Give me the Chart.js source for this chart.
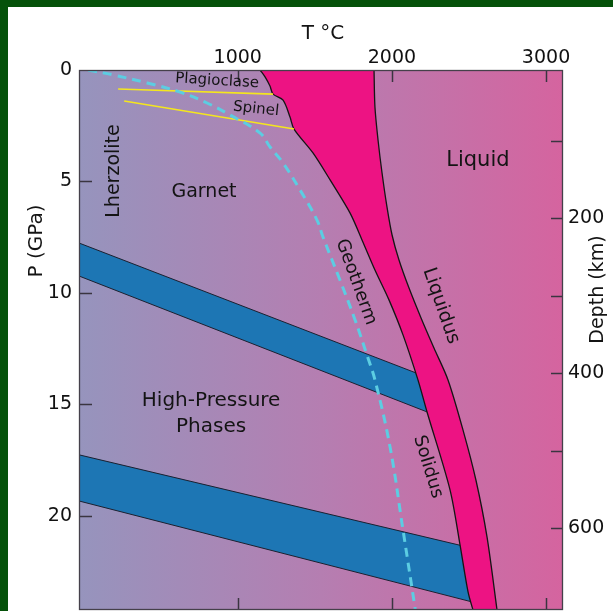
<!DOCTYPE html>
<html><head><meta charset="utf-8">
<script src="https://cdn.jsdelivr.net/npm/chart.js@4.4.1/dist/chart.umd.min.js"></script>
<style>html,body{margin:0;padding:0;background:#fff;overflow:hidden}canvas{display:block}</style>
</head><body>
<canvas id="c" width="613" height="611"></canvas>
<script>
// ---- tick values ----
const tempTicks = [1000, 2000, 3000];
const pressureTicks = [0, 5, 10, 15, 20];
const depthMinorTicks = [100, 200, 300, 400, 500, 600];
const depthLabelTicks = [200, 400, 600];

// ---- phase boundaries (T in °C, P in GPa) ----
const solidusT = [1145, 1177, 1209, 1229, 1294, 1339, 1365, 1488, 1599, 1728, 1806, 1890, 1981, 2072, 2169, 2228, 2377, 2442, 2494, 2526, 2560];
const solidusP = [0, 0.31, 0.72, 1.08, 1.35, 2.11, 2.65, 3.72, 4.93, 6.41, 7.62, 8.97, 10.31, 11.88, 13.90, 15.34, 18.83, 21.30, 23.41, 24.22, 25.0];

const liquidusT = [1884, 1890, 1910, 1936, 1968, 2001, 2046, 2111, 2189, 2273, 2364, 2461, 2545, 2617, 2682, 2697];
const liquidusP = [0, 1.66, 3.14, 4.62, 6.14, 7.40, 8.52, 9.78, 11.12, 12.47, 13.90, 16.14, 18.39, 20.94, 24.22, 25.0];

const geothermT = [29, 191, 412, 626, 801, 950, 1145, 1209, 1294, 1404, 1514, 1553, 1663, 1761, 1838, 1890, 1988, 2072, 2149, 2160];
const geothermP = [0, 0.22, 0.58, 0.99, 1.48, 2.02, 2.83, 3.45, 4.17, 5.38, 6.73, 7.49, 9.42, 11.21, 12.78, 13.90, 16.91, 20.63, 24.08, 24.6];

const plagioclaseT = [224, 1229];
const plagioclaseP = [0.85, 1.08];
const spinelT = [263, 1365];
const spinelP = [1.39, 2.65];

// upper transition zone band (top / bottom boundaries)
const band1TopT = [-30, 2300];
const band1TopP = [7.76, 13.97];
const band1BotT = [-30, 2300];
const band1BotP = [9.24, 15.53];
// lower transition zone band
const band2TopT = [-30, 2560];
const band2TopP = [17.26, 21.51];
const band2BotT = [-30, 2600];
const band2BotP = [19.33, 24.0];

const pts = (T, P) => T.map((t, i) => ({x: t, y: P[i]}));
const poly = (T1, P1, T2, P2) => pts(T1, P1).concat(pts(T2, P2).reverse());

const FONT = "'DejaVu Sans', 'Liberation Sans', sans-serif";

// text annotations (layout)
const annotations = [
  {text: 'Plagioclase', x: 866, y: 0.49, rot: 3.5, size: 15},
  {text: 'Spinel', x: 1119, y: 1.75, rot: 6, size: 15},
  {text: 'Lherzolite', x: 198, y: 4.53, rot: -90, size: 19},
  {text: 'Garnet', x: 781, y: 5.47, rot: 0, size: 19},
  {text: 'Liquid', x: 2558, y: 4.04, rot: 0, size: 21},
  {text: 'Geotherm', x: 1767, y: 9.51, rot: 70, size: 18},
  {text: 'Liquidus', x: 2318, y: 10.58, rot: 71, size: 19},
  {text: 'Solidus', x: 2234, y: 17.80, rot: 73, size: 18},
  {text: 'High-Pressure', x: 827, y: 14.84, rot: 0, size: 20},
  {text: 'Phases', x: 827, y: 16.01, rot: 0, size: 20}
];

const bgPlugin = {
  id: 'bg',
  beforeDraw(chart) {
    const {ctx, width, height, chartArea: a} = chart;
    ctx.save();
    ctx.fillStyle = '#ffffff';
    ctx.fillRect(0, 0, width, height);
    ctx.fillStyle = '#05520a';
    ctx.fillRect(0, 0, width, 7);
    ctx.fillRect(0, 0, 8, height);
    const g = ctx.createLinearGradient(a.left, 0, a.right, 0);
    g.addColorStop(0, '#9694bd');
    g.addColorStop(0.5, '#b57eb1');
    g.addColorStop(1, '#d5649f');
    ctx.fillStyle = g;
    ctx.fillRect(a.left, a.top, a.right - a.left, a.bottom - a.top);
    ctx.restore();
  }
};

const framePlugin = {
  id: 'frame',
  afterDatasetsDraw(chart) {
    const {ctx, chartArea: a, scales} = chart;
    const xs = scales.x, ys = scales.y, y2 = scales.y2;
    ctx.save();
    ctx.strokeStyle = '#3a3540';
    ctx.lineWidth = 1.5;
    const ln = (x1, y1, x2, y2_) => { ctx.beginPath(); ctx.moveTo(x1, y1); ctx.lineTo(x2, y2_); ctx.stroke(); };
    tempTicks.forEach(v => {
      const px = Math.round(xs.getPixelForValue(v)) + 0.5;
      ln(px, a.top, px, a.top + 12);
      ln(px, a.bottom, px, a.bottom - 12);
    });
    pressureTicks.filter(v => v > 0).forEach(v => {
      const py = Math.round(ys.getPixelForValue(v)) + 0.5;
      ln(a.left, py, a.left + 13, py);
    });
    depthMinorTicks.forEach(v => {
      const py = Math.round(y2.getPixelForValue(v)) + 0.5;
      ln(a.right, py, a.right - 12, py);
    });
    ctx.lineWidth = 1.3;
    ctx.strokeStyle = '#45404a';
    ctx.strokeRect(a.left + 0.5, a.top + 0.5, a.right - a.left - 1, a.bottom - a.top - 1);

    // annotations
    ctx.fillStyle = '#141414';
    ctx.textAlign = 'center';
    ctx.textBaseline = 'middle';
    annotations.forEach(an => {
      ctx.save();
      ctx.translate(xs.getPixelForValue(an.x), ys.getPixelForValue(an.y));
      ctx.rotate(an.rot * Math.PI / 180);
      ctx.font = an.size + 'px ' + FONT;
      ctx.fillText(an.text, 0, 0);
      ctx.restore();
    });

    // axis titles
    ctx.font = '20px ' + FONT;
    ctx.fillText('T °C', xs.getPixelForValue(1553), a.top - 36);
    ctx.save();
    ctx.translate(37, ys.getPixelForValue(7.67));
    ctx.rotate(-Math.PI / 2);
    ctx.fillText('P (GPa)', 0, 0);
    ctx.restore();
    ctx.save();
    ctx.font = '19px ' + FONT;
    ctx.translate(a.right + 35, y2.getPixelForValue(292));
    ctx.rotate(-Math.PI / 2);
    ctx.fillText('Depth (km)', 0, 0);
    ctx.restore();
    ctx.restore();
  }
};

const lineDs = (label, data, color, width, extra) => Object.assign({
  label, data, showLine: true, borderColor: color, borderWidth: width,
  pointRadius: 0, pointHoverRadius: 0, fill: false, tension: 0
}, extra || {});

const fitV = w => s => { s.width = w; s.paddingTop = 0; s.paddingBottom = 0; };

new Chart(document.getElementById('c'), {
  type: 'scatter',
  data: {
    datasets: [
      lineDs('Geotherm', pts(geothermT, geothermP), '#5ccde2', 3, {borderDash: [9, 6], tension: 0.4}),
      lineDs('Plagioclase', pts(plagioclaseT, plagioclaseP), '#f4e61e', 1.6),
      lineDs('Spinel', pts(spinelT, spinelP), '#f4e61e', 1.6),
      lineDs('Solidus', pts(solidusT, solidusP), '#151515', 1.3, {tension: 0.3}),
      lineDs('Liquidus', pts(liquidusT, liquidusP), '#151515', 1.3, {tension: 0.3}),
      lineDs('Melt', poly(solidusT, solidusP, liquidusT, liquidusP), 'rgba(0,0,0,0)', 0, {fill: 'shape', backgroundColor: '#ed1383', tension: 0.3}),
      lineDs('Band1', poly(band1TopT, band1TopP, band1BotT, band1BotP), '#1b2030', 1, {fill: 'shape', backgroundColor: '#1d76b4'}),
      lineDs('Band2', poly(band2TopT, band2TopP, band2BotT, band2BotP), '#1b2030', 1, {fill: 'shape', backgroundColor: '#1d76b4'})
    ]
  },
  options: {
    responsive: false,
    animation: false,
    devicePixelRatio: 1,
    layout: {padding: {left: 0, right: 0, top: 0, bottom: 1}},
    plugins: {legend: {display: false}, tooltip: {enabled: false}},
    events: [],
    scales: {
      x: {
        type: 'linear', position: 'top', min: -30, max: 3110,
        afterBuildTicks: s => { s.ticks = tempTicks.map(v => ({value: v})); },
        afterFit: s => { s.height = 70; s.paddingLeft = 0; s.paddingRight = 0; },
        grid: {display: false, drawTicks: false}, border: {display: false},
        ticks: {font: {family: FONT, size: 19}, color: '#111', padding: 1, maxRotation: 0, autoSkip: false, callback: v => String(v)}
      },
      y: {
        type: 'linear', position: 'left', reverse: true, min: 0, max: 24.22,
        afterBuildTicks: s => { s.ticks = pressureTicks.map(v => ({value: v})); },
        afterFit: fitV(79),
        grid: {display: false, drawTicks: false}, border: {display: false},
        ticks: {font: {family: FONT, size: 19}, color: '#111', padding: 7, autoSkip: false, callback: v => String(v)}
      },
      y2: {
        type: 'linear', position: 'right', reverse: true, min: 8.3, max: 706,
        afterBuildTicks: s => { s.ticks = depthLabelTicks.map(v => ({value: v})); },
        afterFit: fitV(50),
        grid: {display: false, drawTicks: false}, border: {display: false},
        ticks: {font: {family: FONT, size: 19}, color: '#111', padding: 5, autoSkip: false, callback: v => String(v)}
      }
    }
  },
  plugins: [bgPlugin, framePlugin]
});
</script>
</body></html>
